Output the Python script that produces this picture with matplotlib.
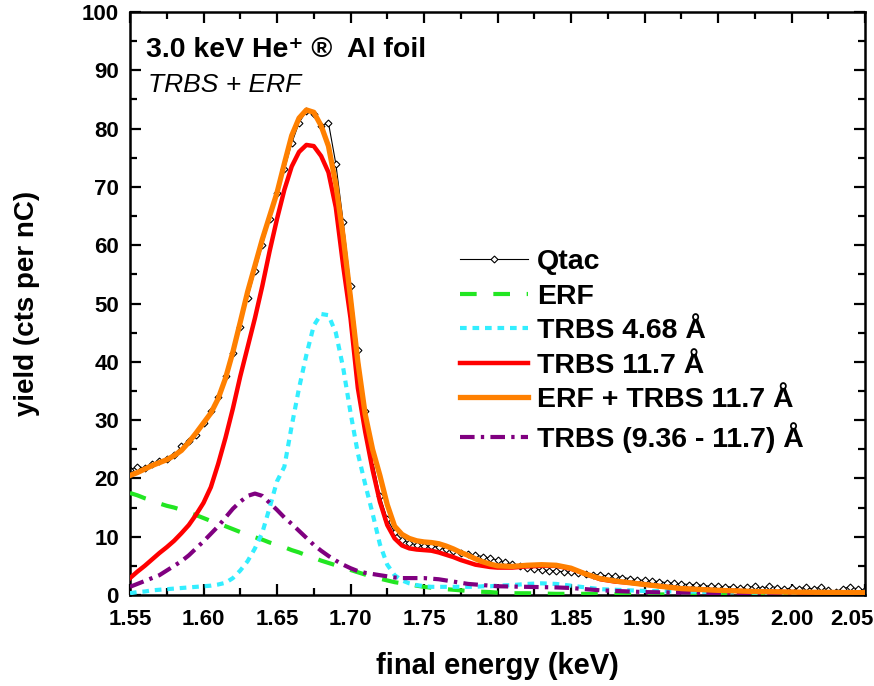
import numpy as np
import matplotlib

matplotlib.use("Agg")
import matplotlib.pyplot as plt
import matplotlib.transforms as mtransforms
from matplotlib.ticker import MultipleLocator

plt.rcParams["font.family"] = ["Liberation Sans", "DejaVu Sans"]
plt.rcParams["font.weight"] = "bold"

# measured spectrum (Qtac)
e_data = np.round(np.arange(1.550, 2.0501, 0.005), 3)
qtac = [
    21.5, 22.0, 21.8, 22.5, 23.0, 23.3, 24.0, 25.5, 26.5, 27.5,
    29.5, 31.5, 34.0, 37.5, 41.5, 46.0, 51.0, 55.5, 60.0, 64.5,
    69.0, 73.0, 77.5, 81.0, 83.0, 82.5, 80.5, 81.0, 74.0, 64.0,
    53.0, 42.0, 31.5, 23.0, 17.0, 13.0, 10.8, 9.5, 8.9, 8.6,
    8.4, 8.4, 8.2, 7.9, 7.6, 7.2, 7.0, 6.8, 6.6, 6.3,
    6.0, 5.6, 5.3, 5.0, 4.7, 4.5, 4.3, 4.2, 4.1, 4.0,
    3.9, 3.7, 3.6, 3.5, 3.4, 3.3, 3.2, 3.0, 2.8, 2.6,
    2.5, 2.4, 2.3, 2.1, 2.0, 1.9, 1.8, 1.8, 1.6, 1.5,
    1.5, 1.4, 1.4, 1.2, 1.3, 1.5, 1.1, 1.6, 1.2, 1.0,
    1.2, 1.1, 1.3, 1.0, 1.4, 0.8, 0.6, 1.1, 1.4, 1.0,
    0.8,
]

# fit curves
e_fit = [
    1.550, 1.555, 1.560, 1.565, 1.570, 1.575, 1.580, 1.585, 1.590, 1.595,
    1.600, 1.605, 1.610, 1.615, 1.620, 1.625, 1.630, 1.635, 1.640, 1.645,
    1.650, 1.655, 1.660, 1.665, 1.670, 1.675, 1.680, 1.685, 1.690, 1.695,
    1.700, 1.705, 1.710, 1.715, 1.720, 1.725, 1.730, 1.735, 1.740, 1.745,
    1.750, 1.755, 1.760, 1.765, 1.770, 1.775, 1.780, 1.785, 1.790, 1.795,
    1.800, 1.810, 1.820, 1.830, 1.840, 1.850, 1.860, 1.870, 1.880, 1.890,
    1.900, 1.925, 1.950, 1.975, 2.000, 2.025, 2.050,
]
erf = [
    17.5, 17.1, 16.6, 16.2, 15.7, 15.3, 15.0, 14.6, 14.1, 13.7,
    13.2, 12.7, 12.3, 11.8, 11.3, 10.8, 10.4, 9.9, 9.5, 9.0,
    8.6, 8.2, 7.7, 7.3, 6.8, 6.4, 5.9, 5.5, 5.1, 4.7,
    4.3, 3.9, 3.5, 3.1, 2.8, 2.5, 2.2, 2.0, 1.8, 1.6,
    1.4, 1.25, 1.1, 1.0, 0.9, 0.8, 0.7, 0.6, 0.55, 0.5,
    0.4, 0.3, 0.3, 0.25, 0.2, 0.2, 0.2, 0.15, 0.15, 0.1,
    0.1, 0.1, 0.1, 0.05, 0.05, 0.05, 0.05,
]
trbs_468 = [
    0.3, 0.5, 0.6, 0.8, 0.9, 1.0, 1.1, 1.2, 1.3, 1.4,
    1.5, 1.6, 1.8, 2.1, 2.9, 4.2, 5.8, 8.0, 10.7, 15.0,
    19.5, 22.0, 29.0, 35.5, 41.2, 46.2, 48.2, 48.0, 45.0, 39.0,
    31.3, 24.3, 19.0, 14.0, 8.7, 5.2, 3.4, 2.5, 2.0, 1.7,
    1.5, 1.4, 1.4, 1.4, 1.4, 1.4, 1.4, 1.4, 1.5, 1.5,
    1.6, 1.7, 1.9, 2.0, 1.9, 1.6, 1.3, 1.0, 0.9, 0.8,
    0.7, 0.6, 0.5, 0.4, 0.4, 0.3, 0.3,
]
trbs_117 = [
    2.9, 4.0, 5.0, 6.1, 7.2, 8.2, 9.3, 10.6, 12.0, 13.8,
    15.8, 18.5, 22.5, 27.0, 32.0, 37.5, 42.5, 47.5, 53.0, 59.0,
    64.5, 69.5, 73.5, 76.0, 77.2, 77.0, 75.3, 72.5, 66.5, 56.5,
    47.5, 35.5, 28.0, 21.5, 16.0, 12.0, 9.7, 8.5, 8.0, 7.8,
    7.7, 7.6, 7.3, 6.9, 6.5, 6.0, 5.6, 5.2, 5.0, 4.8,
    4.7, 4.7, 4.9, 5.0, 5.0, 4.5, 3.6, 2.7, 2.3, 2.1,
    1.8, 1.1, 0.8, 0.6, 0.5, 0.4, 0.4,
]
erf_plus_117 = [
    20.5, 21.0, 21.6, 22.2, 22.7, 23.2, 23.9, 24.8, 26.2, 27.8,
    29.5, 31.2, 33.7, 37.2, 41.7, 46.8, 52.0, 56.5, 61.0, 65.0,
    69.0, 74.0, 78.8, 81.8, 83.2, 82.8, 80.5, 77.0, 70.5, 61.5,
    51.0, 40.0, 31.0, 25.0, 20.5, 15.5, 11.8, 10.4, 9.7, 9.3,
    9.1, 9.0, 8.8, 8.4, 7.9, 7.3, 6.8, 6.2, 5.7, 5.3,
    5.0, 4.9, 5.1, 5.2, 5.1, 4.6, 3.6, 2.8, 2.4, 2.1,
    1.8, 1.1, 0.8, 0.6, 0.5, 0.45, 0.4,
]
trbs_range = [
    1.4, 1.9, 2.4, 2.9, 3.4, 4.2, 5.0, 5.8, 6.8, 8.0,
    9.2, 10.5, 11.8, 13.3, 14.8, 16.0, 17.0, 17.4, 17.0, 15.8,
    14.6, 13.3, 12.2, 11.0, 9.8, 8.6, 7.6, 6.7, 5.9, 5.2,
    4.6, 4.1, 3.8, 3.6, 3.4, 3.2, 3.0, 2.9, 2.9, 2.9,
    2.9, 2.8, 2.7, 2.5, 2.3, 2.1, 1.9, 1.8, 1.7, 1.6,
    1.5, 1.45, 1.4, 1.35, 1.3, 1.2, 1.0, 0.8, 0.7, 0.6,
    0.5, 0.4, 0.35, 0.3, 0.3, 0.25, 0.2,
]
x_ticks = [1.55, 1.60, 1.65, 1.70, 1.75, 1.80, 1.85, 1.90, 1.95, 2.00, 2.05]

fig = plt.figure(figsize=(8.74, 6.86), dpi=100)
ax = fig.add_axes([130 / 874, 91 / 686, 735 / 874, 583 / 686])

ax.plot(e_data, qtac, color="black", lw=0.8, marker="D", ms=3.5,
        mfc="white", mec="black", mew=0.8, label="Qtac", zorder=2)
ax.plot(e_fit, erf, color="#22e622", lw=3, dashes=(4, 4), label="ERF", zorder=3)
ax.plot(e_fit, trbs_468, color="#33eeff", lw=3, dashes=(1.6, 1.4),
        label="TRBS 4.68 Å", zorder=3)
ax.plot(e_fit, trbs_117, color="#ff0000", lw=3.2, label="TRBS 11.7 Å", zorder=4)
ax.plot(e_fit, erf_plus_117, color="#ff8000", lw=3.8,
        label="ERF + TRBS 11.7 Å", zorder=5)
ax.plot(e_fit, trbs_range, color="#800080", lw=3, dashes=(3.5, 1.5, 0.8, 1.5),
        label="TRBS (9.36 - 11.7) Å", zorder=3)

ax.set_xticks(x_ticks, [f"{v:.2f}" for v in x_ticks])
ax.set_xlim(1.55, 2.05)
ax.set_ylim(0, 100)
ax.xaxis.set_minor_locator(MultipleLocator(0.025))
ax.yaxis.set_major_locator(MultipleLocator(10))
ax.yaxis.set_minor_locator(MultipleLocator(5))
ax.tick_params(which="both", direction="in", top=True, right=True,
               width=1.6, labelsize=16)
ax.tick_params(axis="x", pad=10)
ax.tick_params(axis="y", pad=8)
ax.tick_params(which="major", length=8)
ax.tick_params(which="minor", length=5)
for spine in ax.spines.values():
    spine.set_linewidth(1.8)

# keep the last x label inside the figure
last = ax.get_xticklabels()[-1]
last.set_transform(last.get_transform()
                   + mtransforms.ScaledTranslation(-0.13, 0, fig.dpi_scale_trans))

ax.set_xlabel("final energy (keV)", fontsize=21, fontweight="bold", labelpad=16)
ax.set_ylabel("yield (cts per nC)", fontsize=20, fontweight="bold", labelpad=30)

ax.text(0.022, 0.935, "3.0 keV He⁺ ®  Al foil", transform=ax.transAxes,
        fontsize=20.5, fontweight="bold", va="center", ha="left")
ax.text(0.025, 0.875, "TRBS + ERF", transform=ax.transAxes,
        fontsize=19, fontstyle="italic", fontweight="normal",
        va="center", ha="left")

ax.legend(loc="upper left", bbox_to_anchor=(460 / 874, 1 - 249 / 686),
          bbox_transform=fig.transFigure, frameon=False,
          handlelength=2.4, handletextpad=0.3, labelspacing=0.3,
          borderpad=0, borderaxespad=0,
          prop={"weight": "bold", "size": 20.5})

fig.savefig("out.png", dpi=100)
